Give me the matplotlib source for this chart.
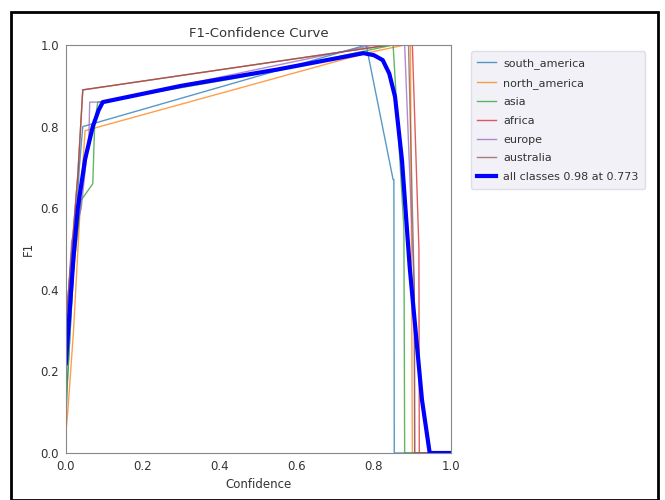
import matplotlib

matplotlib.use("Agg")
import matplotlib.pyplot as plt
from matplotlib.patches import Rectangle

# per-class F1 vs confidence
south_america_x = [0.0, 0.003, 0.02, 0.035, 0.044, 0.78, 0.85, 0.852, 0.853, 1.0]
south_america_y = [0.04, 0.16, 0.45, 0.70, 0.80, 1.0, 0.67, 0.67, 0.0, 0.0]

north_america_x = [0.0, 0.005, 0.02, 0.04, 0.05, 0.78, 0.88, 0.895, 0.90, 1.0]
north_america_y = [0.05, 0.10, 0.30, 0.65, 0.79, 0.98, 1.0, 1.0, 0.0, 0.0]

asia_x = [0.0, 0.004, 0.02, 0.04, 0.07, 0.075, 0.083, 0.45, 0.80, 0.85, 0.878, 0.88, 1.0]
asia_y = [0.10, 0.17, 0.45, 0.62, 0.66, 0.81, 0.86, 0.92, 0.99, 1.0, 0.55, 0.0, 0.0]

africa_x = [0.0, 0.003, 0.02, 0.031, 0.044, 0.84, 0.90, 0.917, 0.918, 1.0]
africa_y = [0.30, 0.35, 0.55, 0.68, 0.89, 1.0, 1.0, 0.50, 0.0, 0.0]

europe_x = [0.0, 0.004, 0.015, 0.04, 0.06, 0.062, 0.09, 0.80, 0.88, 0.905, 0.906, 1.0]
europe_y = [0.20, 0.35, 0.52, 0.60, 0.78, 0.86, 0.86, 1.0, 1.0, 0.40, 0.0, 0.0]

australia_x = [0.0, 0.003, 0.02, 0.031, 0.044, 0.84, 0.89, 0.905, 0.906, 1.0]
australia_y = [0.28, 0.35, 0.55, 0.68, 0.89, 1.0, 1.0, 0.40, 0.0, 0.0]

all_x = [0.0, 0.02, 0.031, 0.05, 0.07, 0.085, 0.096, 0.30, 0.55, 0.773, 0.80, 0.823, 0.84,
         0.855, 0.873, 0.893, 0.925, 0.945, 1.0]
all_y = [0.22, 0.48, 0.60, 0.72, 0.80, 0.84, 0.86, 0.90, 0.94, 0.98, 0.975, 0.963, 0.93,
         0.873, 0.718, 0.456, 0.13, 0.0, 0.0]

class_names = ["south_america", "north_america", "asia", "africa", "europe", "australia"]
class_curves = [
    (south_america_x, south_america_y),
    (north_america_x, north_america_y),
    (asia_x, asia_y),
    (africa_x, africa_y),
    (europe_x, europe_y),
    (australia_x, australia_y),
]

fig = plt.figure(figsize=(6.65, 5.0), dpi=100)
ax = fig.add_axes([0.099, 0.094, 0.579, 0.816])

for name, (cx, cy) in zip(class_names, class_curves):
    ax.plot(cx, cy, linewidth=1, alpha=0.75, label=name)
ax.plot(all_x, all_y, linewidth=3, color="blue", label="all classes 0.98 at 0.773")

ax.set_xlim(0, 1)
ax.set_ylim(0, 1)
ax.set_xticks([0.0, 0.2, 0.4, 0.6, 0.8, 1.0])
ax.set_yticks([0.0, 0.2, 0.4, 0.6, 0.8, 1.0])
ax.tick_params(length=0, pad=5, labelsize=8.5, colors="#333333")
for s in ax.spines.values():
    s.set_color("#888888")
ax.set_xlabel("Confidence", fontsize=8.5, color="#333333")
ax.set_ylabel("F1", fontsize=8.5, color="#333333")
ax.set_title("F1-Confidence Curve", fontsize=9.5, color="#333333", pad=6)

leg = fig.legend(loc="upper left", bbox_to_anchor=(0.708, 0.897), fontsize=8,
                 frameon=True, facecolor="#eeeef5", edgecolor="#d8d8e0",
                 handlelength=1.7, handletextpad=0.6, labelspacing=0.78,
                 borderpad=0.6, borderaxespad=0.0)
for t in leg.get_texts():
    t.set_color("#333333")

# black frame round the whole picture
fig.patches.append(Rectangle((11 / 665, 0.0), 647 / 665, 1 - 12 / 500,
                             transform=fig.transFigure, fill=False,
                             edgecolor="black", linewidth=2))

fig.savefig("out.png", dpi=100)
